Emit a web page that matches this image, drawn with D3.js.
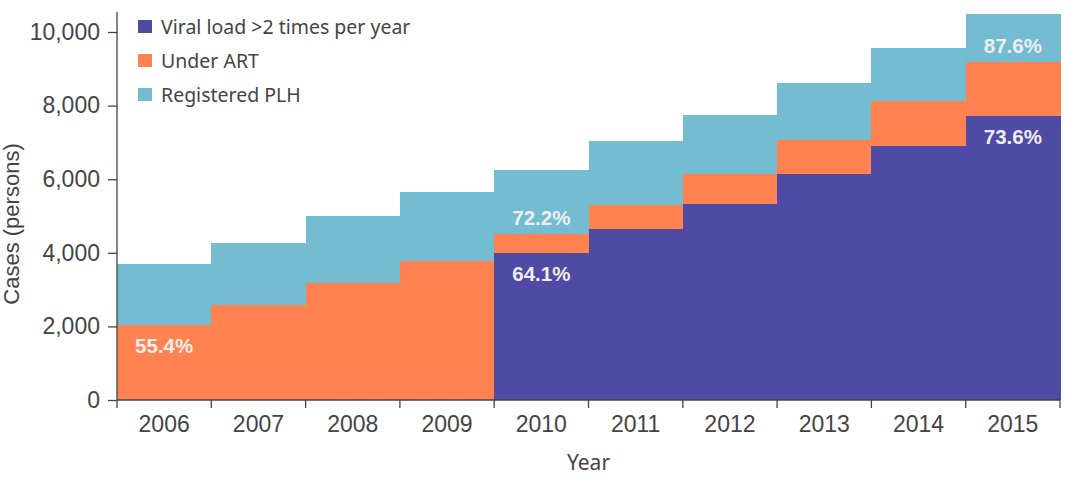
<!DOCTYPE html>
<html>
<head>
<meta charset="utf-8">
<script src="https://cdn.jsdelivr.net/npm/d3@7"></script>
<style>
  html, body { margin: 0; padding: 0; background: #fff; }
  .axis text { font-family: "Liberation Sans", Arial, sans-serif; font-size: 23px; fill: #444; }
  .axis path, .axis line { stroke: #444; stroke-width: 1.3; }
</style>
</head>
<body>
<div id="chart"></div>
<script>
const years = [2006, 2007, 2008, 2009, 2010, 2011, 2012, 2013, 2014, 2015];
const registeredPLH = [3700, 4270, 5000, 5650, 6250, 7040, 7740, 8610, 9560, 10490];
const underART = [2045, 2580, 3180, 3780, 4510, 5300, 6140, 7060, 8120, 9180];
const viralLoad = [0, 0, 0, 0, 4005, 4650, 5325, 6140, 6900, 7730];
const yTicks = [0, 2000, 4000, 6000, 8000, 10000];

// percentage callouts: year, series they sit on, and text
const labelYears = [2006, 2010, 2010, 2015, 2015];
const labelSeries = ["art", "art", "viral", "art", "viral"];
const labelText = ["55.4%", "72.2%", "64.1%", "87.6%", "73.6%"];
const labelSide = ["below", "above", "below", "above", "below"];

const series = [
  { key: "plh", name: "Registered PLH", values: registeredPLH, color: "#74bcd1" },
  { key: "art", name: "Under ART", values: underART, color: "#ff8250" },
  { key: "viral", name: "Viral load >2 times per year", values: viralLoad, color: "#4f4aa4" }
];

const width = 1066, height = 478;
const margin = { top: 32, right: 6, bottom: 78, left: 117 };

const svg = d3.select("#chart").append("svg")
  .attr("width", width)
  .attr("height", height)
  .style("display", "block");

const x = d3.scaleBand()
  .domain(years)
  .range([margin.left, width - margin.right])
  .padding(0);

const y = d3.scaleLinear()
  .domain([0, 10000])
  .range([height - margin.bottom, margin.top]);

// layers, back to front
series.forEach(s => {
  svg.append("g")
    .selectAll("rect")
    .data(years.map((yr, i) => ({ year: yr, v: s.values[i] })).filter(d => d.v > 0))
    .join("rect")
    .attr("x", d => x(d.year))
    .attr("width", x.bandwidth() + 0.5)
    .attr("y", d => y(d.v))
    .attr("height", d => y(0) - y(d.v))
    .attr("fill", s.color)
    .attr("shape-rendering", "crispEdges");
});

// percent labels
const byKey = Object.fromEntries(series.map(s => [s.key, s]));
svg.append("g")
  .selectAll("text")
  .data(labelText.map((t, i) => ({ t, year: labelYears[i], s: labelSeries[i], side: labelSide[i] })))
  .join("text")
  .attr("x", d => x(d.year) + x.bandwidth() / 2)
  .attr("y", d => {
    const v = byKey[d.s].values[years.indexOf(d.year)];
    return d.side === "above" ? y(v) - 9 : y(v) + 28;
  })
  .attr("text-anchor", "middle")
  .style("font-family", "'Liberation Sans', Arial, sans-serif")
  .style("font-size", "20.5px")
  .style("font-weight", "bold")
  .style("fill", "#eeeeee")
  .text(d => d.t);

// x axis: ticks on band boundaries, labels centred
const xAxisG = svg.append("g")
  .attr("class", "axis")
  .attr("transform", `translate(0,${y(0)})`);

xAxisG.append("line")
  .attr("x1", x.range()[0]).attr("x2", x.range()[1])
  .attr("y1", 0).attr("y2", 0);

xAxisG.selectAll("line.tick")
  .data(years.concat([null]))
  .join("line")
  .attr("class", "tick")
  .attr("x1", (d, i) => x.range()[0] + i * x.step())
  .attr("x2", (d, i) => x.range()[0] + i * x.step())
  .attr("y1", 0).attr("y2", 8);

xAxisG.selectAll("text")
  .data(years)
  .join("text")
  .attr("x", d => x(d) + x.bandwidth() / 2)
  .attr("y", 32)
  .attr("text-anchor", "middle")
  .text(d => d);

// y axis
svg.append("g")
  .attr("class", "axis")
  .attr("transform", `translate(${margin.left},0)`)
  .call(d3.axisLeft(y).tickValues(yTicks).tickFormat(d3.format(",")).tickSize(9).tickSizeOuter(0).tickPadding(8))
  .call(g => g.select(".domain").attr("d", `M0,${y(0)}V12`));

// axis titles
svg.append("text")
  .attr("x", x.range()[0] + (x.range()[1] - x.range()[0]) / 2)
  .attr("y", 470)
  .attr("text-anchor", "middle")
  .style("font-family", "'Noto Sans', sans-serif")
  .style("font-size", "21px")
  .style("fill", "#444")
  .text("Year");

svg.append("text")
  .attr("transform", `translate(19,224) rotate(-90)`)
  .attr("text-anchor", "middle")
  .style("font-family", "'Liberation Sans', Arial, sans-serif")
  .style("font-size", "22px")
  .style("fill", "#444")
  .text("Cases (persons)");

// legend
const legendItems = series.slice().reverse();
const legend = svg.append("g").attr("transform", "translate(138,27)");
legendItems.forEach((s, i) => {
  const row = legend.append("g").attr("transform", `translate(0,${i * 34})`);
  row.append("rect")
    .attr("x", 0).attr("y", -7)
    .attr("width", 14).attr("height", 13)
    .attr("fill", s.color);
  row.append("text")
    .attr("x", 23).attr("y", 0)
    .attr("dy", "0.35em")
    .style("font-family", "'Noto Sans', sans-serif")
    .style("font-size", "19.5px")
    .style("fill", "#444")
    .text(s.name);
});
</script>
</body>
</html>
